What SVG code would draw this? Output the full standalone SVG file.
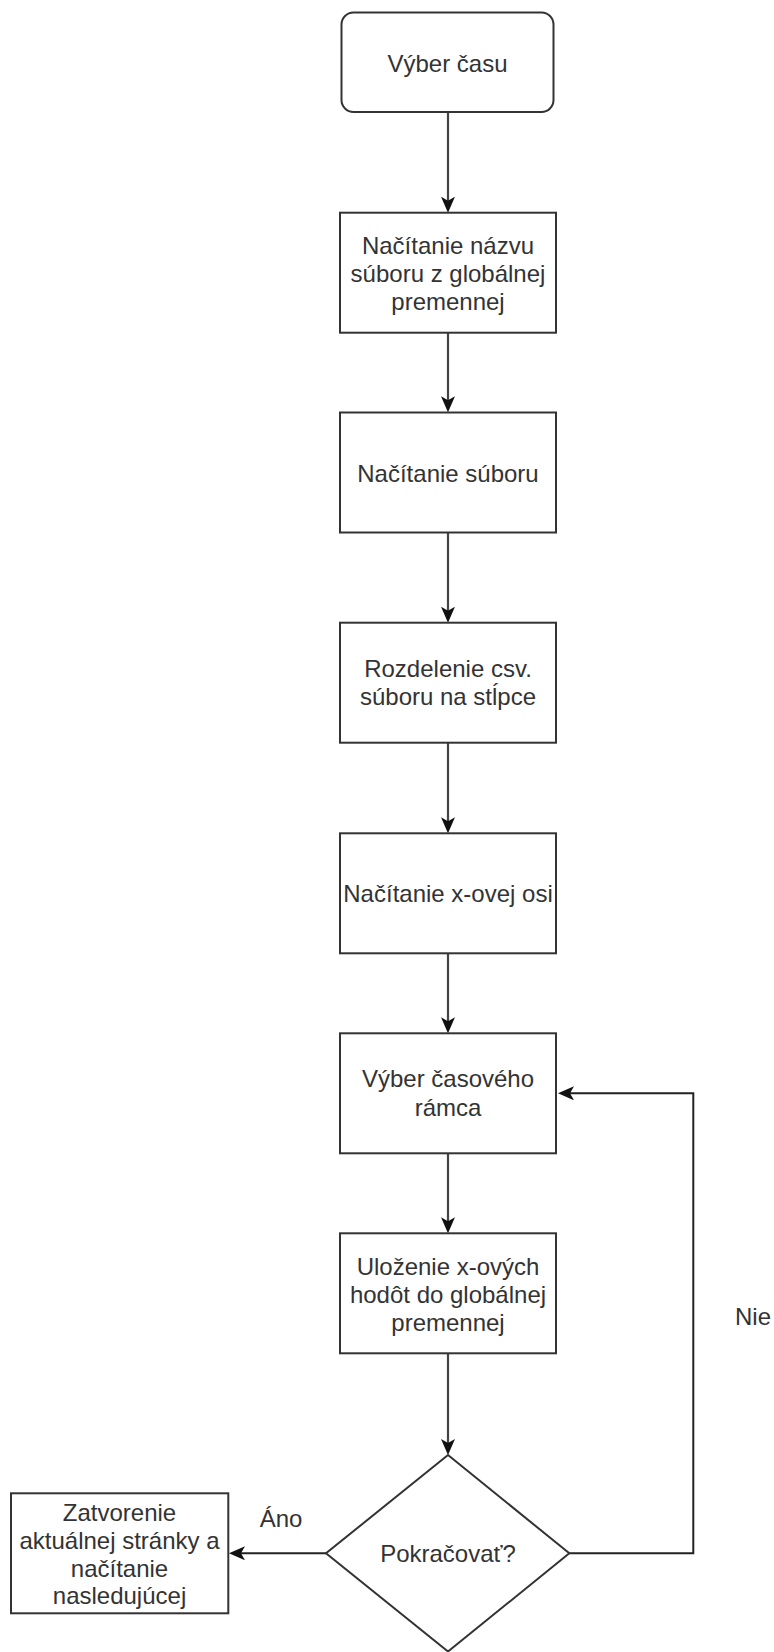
<svg xmlns="http://www.w3.org/2000/svg" width="774" height="1652" viewBox="0 0 774 1652">
  <style>
    .box { fill: #ffffff; stroke: #333333; stroke-width: 2; }
    .lbl { font-family: "Liberation Sans", Arial, sans-serif; font-size: 24px; fill: #333333; text-anchor: middle; }
    .edge { fill: none; stroke: #444444; stroke-width: 2.2; }
    .loop { fill: none; stroke: #222222; stroke-width: 2; }
  </style>
  <defs>
    <marker id="arrow" viewBox="0 0 16 14" refX="10" refY="7" markerWidth="16" markerHeight="14" markerUnits="userSpaceOnUse" orient="auto">
      <path d="M0,0 L16,7 L0,14 L4,7 Z" fill="#111111"/>
    </marker>
  </defs>
  <rect width="774" height="1652" fill="#ffffff"/>

  <!-- connectors -->
  <g id="connectors">
    <path class="edge" d="M448,112 V206.7" marker-end="url(#arrow)"/>
    <path class="edge" d="M448,332.7 V406.3" marker-end="url(#arrow)"/>
    <path class="edge" d="M448,532.7 V616.7" marker-end="url(#arrow)"/>
    <path class="edge" d="M448,742.7 V827.3" marker-end="url(#arrow)"/>
    <path class="edge" d="M448,953.3 V1027.3" marker-end="url(#arrow)"/>
    <path class="edge" d="M448,1153.3 V1227.3" marker-end="url(#arrow)"/>
    <path class="edge" d="M448,1353.3 V1449" marker-end="url(#arrow)"/>
    <path class="loop" d="M326,1553.3 H235" marker-end="url(#arrow)"/>
    <path class="loop" d="M569.3,1553.3 H693.3 V1093.3 H564" marker-end="url(#arrow)"/>
    <text class="lbl" x="281" y="1527">Áno</text>
    <text class="lbl" x="753" y="1325">Nie</text>
  </g>

  <g id="start">
    <rect class="box" x="341.5" y="12.5" width="212" height="99.5" rx="12" ry="12"/>
    <text class="lbl" x="447.5" y="71.5">Výber času</text>
  </g>

  <g id="read-filename">
    <rect class="box" x="340" y="212.7" width="216" height="120"/>
    <text class="lbl" x="448" y="253.5">Načítanie názvu</text>
    <text class="lbl" x="448" y="281.8">súboru z globálnej</text>
    <text class="lbl" x="448" y="310">premennej</text>
  </g>

  <g id="read-file">
    <rect class="box" x="340" y="412.5" width="216" height="120"/>
    <text class="lbl" x="448" y="481.5">Načítanie súboru</text>
  </g>

  <g id="split-columns">
    <rect class="box" x="340" y="622.7" width="216" height="120"/>
    <text class="lbl" x="448" y="677">Rozdelenie csv.</text>
    <text class="lbl" x="448" y="705.3">súboru na stĺpce</text>
  </g>

  <g id="read-x-axis">
    <rect class="box" x="340" y="833.3" width="216" height="120"/>
    <text class="lbl" x="448" y="902">Načítanie x-ovej osi</text>
  </g>

  <g id="select-timeframe">
    <rect class="box" x="340" y="1033.3" width="216" height="120"/>
    <text class="lbl" x="448" y="1087.3">Výber časového</text>
    <text class="lbl" x="448" y="1115.6">rámca</text>
  </g>

  <g id="store-values">
    <rect class="box" x="340" y="1233.3" width="216" height="120"/>
    <text class="lbl" x="448" y="1274.5">Uloženie x-ových</text>
    <text class="lbl" x="448" y="1302.8">hodôt do globálnej</text>
    <text class="lbl" x="448" y="1331">premennej</text>
  </g>

  <g id="continue-decision">
    <polygon class="box" points="448,1455 569.3,1553.3 448,1651.5 326,1553.3"/>
    <text class="lbl" x="448" y="1562">Pokračovať?</text>
  </g>

  <g id="close-page">
    <rect class="box" x="11" y="1493.3" width="217.3" height="120"/>
    <text class="lbl" x="119.5" y="1520.5">Zatvorenie</text>
    <text class="lbl" x="119.5" y="1548.5">aktuálnej stránky a</text>
    <text class="lbl" x="119.5" y="1576.5">načítanie</text>
    <text class="lbl" x="119.5" y="1604.3">nasledujúcej</text>
  </g>
</svg>
